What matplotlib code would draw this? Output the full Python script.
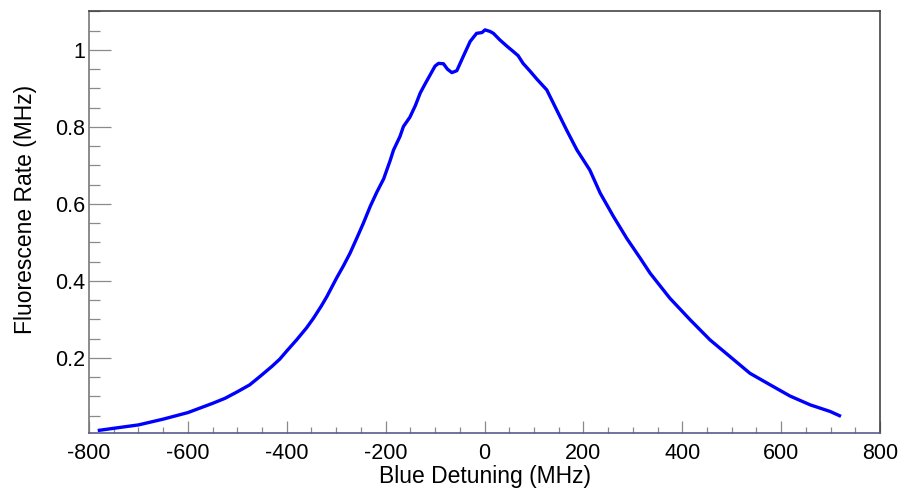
import matplotlib
matplotlib.use("Agg")
import matplotlib.pyplot as plt
from matplotlib.ticker import MultipleLocator, FixedLocator

detuning = [-779, -740, -700, -650, -600, -575, -550, -525, -500, -475, -454, -430,
            -414, -400, -380, -360, -346, -330, -319, -299, -285, -272, -258, -245,
            -231, -218, -204, -191, -184, -171, -164, -151, -140, -130, -120, -110,
            -100, -93, -83, -75, -66, -56, -43, -29, -16, -5, 1, 11, 18, 31, 45, 58,
            68, 78, 92, 106, 126, 146, 166, 187, 213, 234, 261, 288, 315, 335, 375,
            416, 456, 497, 537, 578, 618, 659, 699, 718]
rate = [0.012, 0.019, 0.026, 0.041, 0.058, 0.070, 0.082, 0.095, 0.112, 0.130, 0.152,
        0.178, 0.197, 0.218, 0.247, 0.278, 0.303, 0.335, 0.359, 0.408, 0.440, 0.472,
        0.512, 0.550, 0.594, 0.630, 0.665, 0.712, 0.740, 0.775, 0.801, 0.825, 0.855,
        0.888, 0.912, 0.935, 0.958, 0.965, 0.964, 0.950, 0.941, 0.946, 0.983, 1.022,
        1.043, 1.045, 1.052, 1.048, 1.043, 1.026, 1.010, 0.996, 0.985, 0.965, 0.945,
        0.924, 0.896, 0.844, 0.792, 0.740, 0.688, 0.628, 0.567, 0.510, 0.459, 0.420,
        0.355, 0.299, 0.247, 0.203, 0.160, 0.130, 0.101, 0.078, 0.061, 0.050]

xticks = [-800, -600, -400, -200, 0, 200, 400, 600, 800]
yticks = [0.2, 0.4, 0.6, 0.8, 1.0]
yticklabels = ["0.2", "0.4", "0.6", "0.8", "1"]

plt.rcParams['font.family'] = ['Liberation Sans', 'DejaVu Sans']

fig = plt.figure(figsize=(9.06, 4.94), dpi=100)
ax = fig.add_axes([89/906, 1-433/494, (880-89)/906, (433-11)/494])

ax.plot(detuning, rate, color="#0000ff", lw=2.4, solid_joinstyle="round")

ax.set_xlim(-800, 800)
ax.set_ylim(0.005, 1.101)

ax.xaxis.set_major_locator(FixedLocator(xticks))
ax.set_xticklabels([str(v) for v in xticks])
ax.xaxis.set_minor_locator(MultipleLocator(50))
ax.yaxis.set_major_locator(FixedLocator(yticks))
ax.set_yticklabels(yticklabels)
ax.yaxis.set_minor_locator(MultipleLocator(0.05))

ax.tick_params(axis="x", which="major", direction="in", length=8.6, width=0.9,
               color="#8a8a8a", labelsize=15.5, pad=7, top=False)
ax.tick_params(axis="x", which="minor", direction="in", length=4.3, width=0.9,
               color="#8a8a8a", top=False)
ax.tick_params(axis="y", which="major", direction="in", length=15.8, width=0.9,
               color="#8a8a8a", labelsize=15.5, pad=3, right=False)
ax.tick_params(axis="y", which="minor", direction="in", length=7.9, width=0.9,
               color="#8a8a8a", right=False)

ax.spines["left"].set_color("#777777")
ax.spines["bottom"].set_color("#5a5a8c")
ax.spines["top"].set_color("#444444")
ax.spines["right"].set_color("#444444")
for s in ax.spines.values():
    s.set_linewidth(1.2)

ax.set_xlabel("Blue Detuning (MHz)", fontsize=16.5, labelpad=1)
ax.set_ylabel("Fluorescene Rate (MHz)", fontsize=16.5)
ax.yaxis.set_label_coords(-0.066, 0.53)

fig.savefig("out.png", dpi=100)
